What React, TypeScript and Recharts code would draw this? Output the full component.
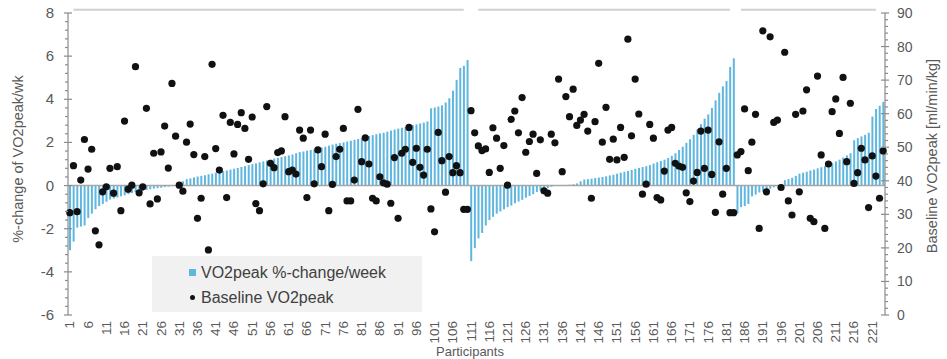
import React from 'react';
import { ComposedChart, Bar, Scatter, XAxis, YAxis, ReferenceLine } from 'recharts';

const FONT = '"Liberation Sans", Arial, sans-serif';
const BAR_COLOR = '#5fb6df';
const AXIS_COLOR = '#8c8c8c';
const TEXT_COLOR = '#595959';

// %-change of VO2peak per week, three sorted groups
const changeGroup1 = [
  -3.0, -2.6, -1.95, -1.9, -1.85, -1.5, -1.3, -1.1, -0.95, -0.85,
  -0.75, -0.65, -0.6, -0.55, -0.5, -0.45, -0.4, -0.35, -0.3, -0.28,
  -0.25, -0.2, -0.17, -0.14, -0.12, -0.1, -0.07, -0.05, -0.03, 0.0,
  0.08, 0.2, 0.3, 0.33, 0.38, 0.42, 0.45, 0.48, 0.52, 0.55,
  0.6, 0.63, 0.67, 0.7, 0.74, 0.78, 0.82, 0.86, 0.9, 0.95,
  0.99, 1.03, 1.08, 1.12, 1.16, 1.2, 1.25, 1.28, 1.32, 1.36,
  1.4, 1.44, 1.5, 1.55, 1.58, 1.62, 1.65, 1.68, 1.72, 1.76,
  1.8, 1.85, 1.9, 1.94, 1.97, 2.0, 2.04, 2.08, 2.12, 2.16,
  2.2, 2.25, 2.3, 2.34, 2.38, 2.42, 2.45, 2.5, 2.55, 2.6,
  2.64, 2.68, 2.72, 2.76, 2.8, 2.84, 2.88, 2.92, 2.97, 3.58,
  3.62, 3.66, 3.72, 3.85, 4.05, 4.4, 4.9, 5.45, 5.55, 5.82,
];
const changeGroup2 = [
  -3.5, -2.9, -2.45, -2.2, -1.85, -1.6, -1.45, -1.3, -1.2, -1.1,
  -1.0, -0.92, -0.82, -0.74, -0.66, -0.56, -0.48, -0.4, -0.3, -0.24,
  -0.18, -0.12, -0.06, -0.02, 0.0, 0.01, 0.02, 0.04, 0.06, 0.1,
  0.2, 0.28, 0.3, 0.32, 0.35, 0.37, 0.4, 0.43, 0.47, 0.5,
  0.55, 0.6, 0.64, 0.68, 0.72, 0.78, 0.82, 0.86, 0.9, 0.95,
  1.02, 1.08, 1.14, 1.2, 1.28, 1.38, 1.5, 1.65, 1.8, 1.98,
  2.15, 2.35, 2.6, 2.85, 3.1, 3.3, 3.6, 3.95, 4.3, 4.6,
  4.85, 5.5, 5.9,
];
const changeGroup3 = [
  -1.3, -1.0, -0.95, -0.85, -0.5, -0.42, -0.32, -0.28, -0.22, -0.15,
  -0.08, -0.02, 0.08, 0.25, 0.3, 0.36, 0.45, 0.55, 0.6, 0.64,
  0.7, 0.74, 0.8, 0.85, 0.9, 0.96, 1.05, 1.12, 1.2, 1.3,
  1.4, 1.5, 2.1, 2.2, 2.28, 2.35, 2.45, 3.2, 3.55, 3.7,
  3.88,
];

// Baseline VO2peak [ml/min/kg]
const baseGroup1 = [
  30.5, 44.5, 30.8, 40.2, 52.3, 43.5, 49.4, 25.1, 20.9, 36.7,
  38.2, 43.7, 36.3, 44.2, 31.1, 57.8, 37.5, 38.7, 74, 36.4,
  38.2, 61.6, 33.1, 48.2, 34.6, 48.6, 56.3, 43.8, 69, 53.3,
  38.7, 36.9, 51.5, 56.9, 47.8, 28.8, 34.8, 47.2, 19.4, 74.7,
  49.6, 43.2, 59.5, 35, 57.4, 48, 56.8, 60.3, 55.6, 46.4,
  59, 33.2, 31.1, 39.1, 62.1, 45.2, 43.9, 48.4, 48.9, 59.1,
  42.7, 43.2, 42, 55.1, 52.7, 35, 55.1, 39.1, 49.2, 44.2,
  53.9, 31.1, 38.9, 47.2, 49.4, 55.6, 34, 34, 40.2, 61.3,
  45.7, 52.8, 45, 34.8, 34, 41.2, 39.4, 39, 33.3, 46.9,
  28.8, 48.2, 49.4, 55.9, 45.5, 49.7, 44, 41.7, 49.4, 31.6,
  24.8, 54.4, 46, 36.6, 47.2, 42.4, 44.5, 42.4, 31.5, 31.5,
];
const baseGroup2 = [
  60.9, 54.3, 50.4, 49, 49.5, 42.5, 55.8, 52.7, 43.7, 50.5,
  38.7, 58.3, 60.8, 54.3, 64.8, 48.5, 51.7, 53.9, 42.2, 52.2,
  37, 36.3, 53.9, 51.3, 70.3, 42.7, 65.1, 59.1, 67.3, 56.5,
  58.1, 59.8, 54.8, 34.8, 57.6, 75, 51.5, 61.9, 46.4, 52.4,
  46.2, 55.9, 47, 82.2, 53.4, 70.3, 59.9, 36, 39, 56.8,
  52.7, 35, 34.3, 42.9, 55.1, 55.9, 45.2, 44.4, 44, 36.4,
  33.8, 39.9, 42.5, 54.8, 43.7, 55.1, 41.9, 30.6, 51.6, 36,
  43.7, 30.5, 30.5,
];
const baseGroup3 = [
  47.7, 48.7, 61.4, 43, 51.5, 59.8, 25.8, 84.7, 36.7, 82.9,
  57.4, 58.1, 38, 78.3, 34, 29.8, 59.8, 36.7, 60.8, 67.1,
  28.8, 27.8, 71.2, 47.7, 25.8, 45, 60.6, 64.4, 54.1, 70.8,
  45.7, 63.1, 39.2, 42.4, 49.7, 46.2, 32, 47.4, 41.4, 34.8,
  48.9,
];

const changes = [...changeGroup1, ...changeGroup2, ...changeGroup3];
const baselines = [...baseGroup1, ...baseGroup2, ...baseGroup3];
const participants = changes.map((_, i) => String(i + 1));

const leftMajorTicks = [-6, -4, -2, 0, 2, 4, 6, 8];
const rightMajorTicks = [0, 10, 20, 30, 40, 50, 60, 70, 80, 90];
// minor ticks: 5 per 2% on the left, 5 per 10 on the right
const leftTicks: number[] = [];
for (let k = 0; k <= 35; k++) leftTicks.push((k * 4 - 60) / 10);
const rightTicks: number[] = [];
for (let k = 0; k <= 45; k++) rightTicks.push(k * 2);

const data = participants.map((id, i) => ({ id, change: changes[i], base: baselines[i] }));

const LeftTick = ({ x, y, payload }: any) => {
  const v = payload.value;
  const major = leftMajorTicks.some((m) => Math.abs(m - v) < 1e-6);
  return (
    <g>
      <line x1={major ? x - 4 : x - 3} x2={major ? x + 4 : x} y1={y} y2={y} stroke={AXIS_COLOR} strokeWidth={1.2} />
      {major && (
        <text x={x - 14} y={y} dy={5} textAnchor="end" fill={TEXT_COLOR} fontSize={15} fontFamily={FONT}>
          {Math.round(v)}
        </text>
      )}
    </g>
  );
};

const RightTick = ({ x, y, payload }: any) => {
  const v = payload.value;
  const major = rightMajorTicks.includes(v);
  return (
    <g>
      <line x1={major ? x - 4 : x} x2={major ? x + 4 : x + 3} y1={y} y2={y} stroke={AXIS_COLOR} strokeWidth={1.2} />
      {major && (
        <text x={x + 12} y={y} dy={5} textAnchor="start" fill={TEXT_COLOR} fontSize={14} fontFamily={FONT}>
          {v}
        </text>
      )}
    </g>
  );
};

const CategoryTick = ({ x, y, payload }: any) => (
  <text
    x={x}
    y={y}
    transform={`rotate(-90 ${x} ${y})`}
    textAnchor="end"
    dominantBaseline="central"
    fill={TEXT_COLOR}
    fontSize={13.5}
    fontFamily={FONT}
  >
    {payload.value}
  </text>
);

const LegendBox = () => (
  <div
    style={{
      position: 'absolute',
      left: 152,
      top: 256,
      width: 270,
      height: 56,
      background: '#f1f1f1',
      fontFamily: FONT,
      fontSize: 16,
      color: '#404040',
      boxSizing: 'border-box',
      paddingLeft: 37,
      paddingTop: 4,
    }}
  >
    <div style={{ display: 'flex', alignItems: 'center', height: 25 }}>
      <span style={{ width: 7, height: 7, background: BAR_COLOR, marginRight: 5 }} />
      VO2peak %-change/week
    </div>
    <div style={{ display: 'flex', alignItems: 'center', height: 25 }}>
      <span style={{ width: 5, height: 5, borderRadius: 3, background: '#111', margin: '0 6px 0 1px' }} />
      Baseline VO2peak
    </div>
  </div>
);

const App: React.FC = () => {
  return (
    <div style={{ position: 'absolute', left: 0, top: 0, width: 947, height: 359, background: '#fff' }}>
      <ComposedChart
        width={947}
        height={359}
        data={data}
        margin={{ top: 13, right: 0, left: 0, bottom: 0 }}
        barCategoryGap={1}
      >
        <XAxis
          dataKey="id"
          interval={4}
          axisLine={false}
          tickLine={false}
          tickSize={0}
          tickMargin={6}
          height={44}
          tick={<CategoryTick />}
        />
        <YAxis
          yAxisId="left"
          domain={[-6, 8]}
          ticks={leftTicks}
          interval={0}
          width={68}
          tickSize={0}
          tickMargin={0}
          axisLine={{ stroke: AXIS_COLOR, strokeWidth: 1.2 }}
          tickLine={false}
          tick={<LeftTick />}
          label={{
            value: '%-change of VO2peak/wk',
            angle: -90,
            position: 'insideLeft',
            offset: 18,
            dy: -5,
            style: { fill: TEXT_COLOR, fontSize: 14.5, fontFamily: FONT, textAnchor: 'middle' },
          }}
        />
        <YAxis
          yAxisId="right"
          orientation="right"
          domain={[0, 90]}
          ticks={rightTicks}
          interval={0}
          width={62}
          tickSize={0}
          tickMargin={0}
          axisLine={{ stroke: AXIS_COLOR, strokeWidth: 1.2 }}
          tickLine={false}
          tick={<RightTick />}
          label={{
            value: 'Baseline VO2peak [ml/min/kg]',
            angle: -90,
            position: 'insideRight',
            offset: 15,
            dy: -8,
            style: { fill: TEXT_COLOR, fontSize: 14.5, fontFamily: FONT, textAnchor: 'middle' },
          }}
        />
        <ReferenceLine yAxisId="left" y={0} stroke="#a6a6a6" strokeWidth={1.5} />
        <ReferenceLine
          yAxisId="left"
          ifOverflow="visible"
          segment={[{ x: '2', y: 8.15 }, { x: '109', y: 8.15 }]}
          stroke="#d0d0d0"
          strokeWidth={2}
        />
        <ReferenceLine
          yAxisId="left"
          ifOverflow="visible"
          segment={[{ x: '113', y: 8.15 }, { x: '182', y: 8.15 }]}
          stroke="#d0d0d0"
          strokeWidth={2}
        />
        <ReferenceLine
          yAxisId="left"
          ifOverflow="visible"
          segment={[{ x: '185', y: 8.15 }, { x: '222', y: 8.15 }]}
          stroke="#d0d0d0"
          strokeWidth={2}
        />
        <Bar yAxisId="left" dataKey="change" name="VO2peak %-change/week" fill={BAR_COLOR} isAnimationActive={false} />
        <Scatter
          yAxisId="right"
          dataKey="base"
          name="Baseline VO2peak"
          fill="#111"
          shape={(p: any) => <circle cx={p.cx} cy={p.cy} r={3.6} fill="#111" />}
          isAnimationActive={false}
        />
        <text x={470} y={356} textAnchor="middle" fill={TEXT_COLOR} fontSize={13} fontFamily={FONT}>
          Participants
        </text>
      </ComposedChart>
      <LegendBox />
    </div>
  );
};

export default App;
